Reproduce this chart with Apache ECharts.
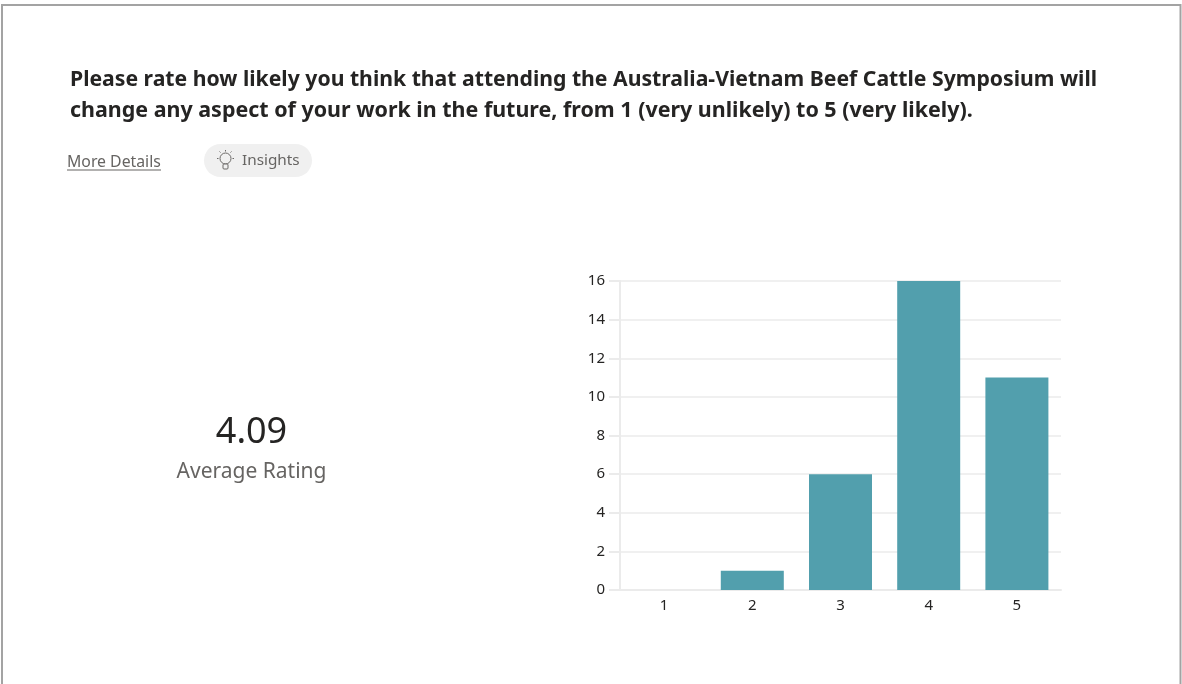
<!DOCTYPE html>
<html>
<head>
<meta charset="utf-8">
<style>html,body{margin:0;padding:0;background:#fff}#c{width:1182px;height:684px}</style>
<script src="https://cdn.jsdelivr.net/npm/echarts@6/dist/echarts.min.js"></script>
</head>
<body>
<div id="c"></div>
<script>
const categories = ['1', '2', '3', '4', '5'];
const counts = [0, 1, 6, 16, 11];
const titleLine1 = 'Please rate how likely you think that attending the Australia-Vietnam Beef Cattle Symposium will';
const titleLine2 = 'change any aspect of your work in the future, from 1 (very unlikely) to 5 (very likely).';
const averageRating = '4.09';
const averageLabel = 'Average Rating';
const font = '"Noto Sans", "Open Sans", sans-serif';

const chart = echarts.init(document.getElementById('c'), null, {renderer: 'canvas'});
chart.setOption({
  animation: false,
  backgroundColor: '#ffffff',
  title: {
    text: '{a|' + titleLine1 + '}\n{b|' + titleLine2 + '}', left: 65, top: 59,
    textStyle: {
      rich: {
        a: {fontFamily: font, fontSize: 21.2, fontWeight: 700, color: '#252423', lineHeight: 31},
        b: {fontFamily: font, fontSize: 21.45, fontWeight: 700, color: '#252423', lineHeight: 31}
      }
    }
  },
  grid: {left: 620, right: 121, top: 281, bottom: 94},
  xAxis: {
    type: 'category', data: categories,
    axisLine: {lineStyle: {color: '#ebebeb', width: 2}},
    axisTick: {show: false},
    axisLabel: {fontFamily: font, fontSize: 15, color: '#252423', margin: 8}
  },
  yAxis: {
    type: 'value', min: 0, max: 16, interval: 2,
    axisLine: {show: true, lineStyle: {color: '#ebebeb', width: 2}},
    axisTick: {show: true, length: 11, lineStyle: {color: '#ebebeb', width: 2}},
    splitLine: {lineStyle: {color: '#ebebeb', width: 1.5}},
    axisLabel: {fontFamily: font, fontSize: 15, color: '#252423', margin: 15, padding: [2, 0, 0, 0]}
  },
  series: [{
    type: 'bar', data: counts, barWidth: 63,
    itemStyle: {color: '#529fad'}
  }],
  graphic: [
    {type: 'rect', z: -1, shape: {x: 2, y: 5, width: 1178.5, height: 690},
     style: {fill: '#ffffff', stroke: '#a3a3a3', lineWidth: 2}},
    {type: 'text', x: 67, y: 154, style: {text: 'More Details', font: '15.8px ' + font, fill: '#666462'}},
    {type: 'rect', shape: {x: 67, y: 169.5, width: 94, height: 1}, style: {fill: '#666462'}},
    {type: 'rect', shape: {x: 204, y: 144, width: 108, height: 33, r: 16.5}, style: {fill: '#f0f0f0'}},
    {type: 'circle', shape: {cx: 225.5, cy: 158.5, r: 5.5}, style: {fill: 'none', stroke: '#6b6967', lineWidth: 1}},
    {type: 'rect', shape: {x: 223, y: 164, width: 5, height: 5, r: 1}, style: {fill: '#f0f0f0', stroke: '#6b6967', lineWidth: 1}},
    {type: 'line', shape: {x1: 225.5, y1: 150, x2: 225.5, y2: 151.5}, style: {stroke: '#6b6967', lineWidth: 1}},
    {type: 'line', shape: {x1: 219.5, y1: 151.5, x2: 220.5, y2: 152.5}, style: {stroke: '#6b6967', lineWidth: 1}},
    {type: 'line', shape: {x1: 231.5, y1: 151.5, x2: 230.5, y2: 152.5}, style: {stroke: '#6b6967', lineWidth: 1}},
    {type: 'line', shape: {x1: 217, y1: 158.5, x2: 218.5, y2: 158.5}, style: {stroke: '#6b6967', lineWidth: 1}},
    {type: 'line', shape: {x1: 232.5, y1: 158.5, x2: 234, y2: 158.5}, style: {stroke: '#6b6967', lineWidth: 1}},
    {type: 'text', x: 242, y: 153, style: {text: 'Insights', font: '15.3px ' + font, fill: '#666462'}},
    {type: 'text', x: 251.5, y: 433, style: {text: averageRating, font: '36px ' + font, fill: '#252423', align: 'center', verticalAlign: 'middle'}},
    {type: 'text', x: 251.5, y: 472, style: {text: averageLabel, font: '21px ' + font, fill: '#666462', align: 'center', verticalAlign: 'middle'}}
  ]
});
</script>
</body>
</html>
